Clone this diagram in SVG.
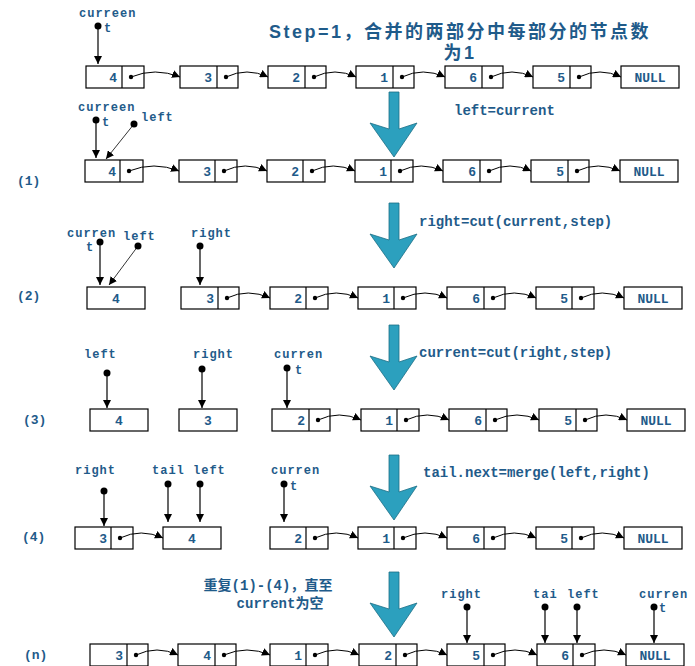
<svg xmlns="http://www.w3.org/2000/svg" width="695" height="666" viewBox="0 0 695 666">
<style>
rect{fill:#fff;stroke:#000;stroke-width:1.2}
.d{stroke:#000;stroke-width:1.2}
.t{font-family:"Liberation Mono","DejaVu Sans Mono",monospace;font-weight:bold;font-size:13px;fill:#1f5b8a}
.v{text-anchor:end}
.c{text-anchor:middle}
.p{font-family:"Liberation Mono","DejaVu Sans Mono",monospace;font-weight:bold;font-size:12px;fill:#1f5b8a;letter-spacing:1px}
.cap{font-family:"Liberation Mono","DejaVu Sans Mono","Noto Sans CJK SC",monospace;font-weight:bold;font-size:14px;fill:#1f5b8a}
.ti{font-family:"Liberation Sans","Noto Sans CJK SC",sans-serif;font-weight:bold;font-size:18px;fill:#1f5b8a;letter-spacing:2.5px}
.cn path{fill:none;stroke:#000;stroke-width:1;marker-end:url(#ah)}
.ptr line{stroke:#000;stroke-width:1.2;marker-end:url(#ah)}
.big{fill:#2ca0be;stroke:#1d6f85;stroke-width:0.8}
</style>
<defs>
<marker id="ah" viewBox="0 0 10 10" refX="10" refY="5" markerWidth="8" markerHeight="8" markerUnits="userSpaceOnUse" orient="auto"><path d="M0,0L10,5L0,10z" fill="#000"/></marker>
<polygon id="arr" points="389,0 399,0 399,37 417,31 394,65 370,31 389,37"/>
</defs>

<text class="ti" x="269" y="38">Step=1，合并的两部分中每部分的节点数</text>
<text class="ti" x="460" y="59" text-anchor="middle">为1</text>

<g id="bigarrows">
<use href="#arr" class="big" y="92"/>
<use href="#arr" class="big" y="203"/>
<use href="#arr" class="big" y="325"/>
<use href="#arr" class="big" y="455"/>
<use href="#arr" class="big" y="572"/>
</g>

<text class="cap" x="454" y="115">left=current</text>
<text class="cap" x="419" y="226">right=cut(current,step)</text>
<text class="cap" x="419" y="357">current=cut(right,step)</text>
<text class="cap" x="423" y="477">tail.next=merge(left,right)</text>
<text class="cap" x="268" y="590" text-anchor="middle">重复(1)-(4)，直至</text>
<text class="cap" x="280" y="608" text-anchor="middle">current为空</text>

<g class="t">
<text x="17" y="185">(1)</text><text x="17" y="300">(2)</text><text x="23" y="424">(3)</text><text x="22" y="541">(4)</text><text x="24" y="659">(n)</text>
</g>

<g id="r0">
<rect x="86" y="66" width="58" height="22"/><line class="d" x1="122" y1="66" x2="122" y2="88"/><text class="t v" x="117" y="82">4</text>
<rect x="180" y="66" width="58" height="22"/><line class="d" x1="217" y1="66" x2="217" y2="88"/><text class="t v" x="212" y="82">3</text>
<rect x="268" y="66" width="58" height="22"/><line class="d" x1="305" y1="66" x2="305" y2="88"/><text class="t v" x="300" y="82">2</text>
<rect x="356" y="66" width="58" height="22"/><line class="d" x1="393" y1="66" x2="393" y2="88"/><text class="t v" x="388" y="82">1</text>
<rect x="445" y="66" width="58" height="22"/><line class="d" x1="482" y1="66" x2="482" y2="88"/><text class="t v" x="477" y="82">6</text>
<rect x="533" y="66" width="58" height="22"/><line class="d" x1="570" y1="66" x2="570" y2="88"/><text class="t v" x="565" y="82">5</text>
<rect x="621" y="66" width="58" height="22"/><text class="t c" x="650" y="82">NULL</text>
</g>
<g id="r1">
<rect x="85" y="160" width="58" height="22"/><line class="d" x1="120" y1="160" x2="120" y2="182"/><text class="t v" x="116" y="176">4</text>
<rect x="179" y="160" width="58" height="22"/><line class="d" x1="215" y1="160" x2="215" y2="182"/><text class="t v" x="211" y="176">3</text>
<rect x="267" y="160" width="58" height="22"/><line class="d" x1="303" y1="160" x2="303" y2="182"/><text class="t v" x="299" y="176">2</text>
<rect x="355" y="160" width="58" height="22"/><line class="d" x1="391" y1="160" x2="391" y2="182"/><text class="t v" x="387" y="176">1</text>
<rect x="443" y="160" width="58" height="22"/><line class="d" x1="480" y1="160" x2="480" y2="182"/><text class="t v" x="476" y="176">6</text>
<rect x="531" y="160" width="58" height="22"/><line class="d" x1="568" y1="160" x2="568" y2="182"/><text class="t v" x="564" y="176">5</text>
<rect x="620" y="160" width="58" height="22"/><text class="t c" x="649" y="176">NULL</text>
</g>
<g id="r2">
<rect x="87" y="287" width="58" height="22"/><text class="t c" x="116" y="303">4</text>
<rect x="181" y="287" width="58" height="22"/><line class="d" x1="218" y1="287" x2="218" y2="309"/><text class="t v" x="214" y="303">3</text>
<rect x="270" y="287" width="58" height="22"/><line class="d" x1="306" y1="287" x2="306" y2="309"/><text class="t v" x="302" y="303">2</text>
<rect x="358" y="287" width="58" height="22"/><line class="d" x1="394" y1="287" x2="394" y2="309"/><text class="t v" x="390" y="303">1</text>
<rect x="447" y="287" width="58" height="22"/><line class="d" x1="484" y1="287" x2="484" y2="309"/><text class="t v" x="480" y="303">6</text>
<rect x="536" y="287" width="58" height="22"/><line class="d" x1="572" y1="287" x2="572" y2="309"/><text class="t v" x="568" y="303">5</text>
<rect x="624" y="287" width="58" height="22"/><text class="t c" x="653" y="303">NULL</text>
</g>
<g id="r3">
<rect x="90" y="409" width="58" height="22"/><text class="t c" x="119" y="425">4</text>
<rect x="179" y="409" width="58" height="22"/><text class="t c" x="208" y="425">3</text>
<rect x="272" y="409" width="58" height="22"/><line class="d" x1="309" y1="409" x2="309" y2="431"/><text class="t v" x="305" y="425">2</text>
<rect x="361" y="409" width="58" height="22"/><line class="d" x1="397" y1="409" x2="397" y2="431"/><text class="t v" x="393" y="425">1</text>
<rect x="449" y="409" width="58" height="22"/><line class="d" x1="486" y1="409" x2="486" y2="431"/><text class="t v" x="482" y="425">6</text>
<rect x="539" y="409" width="58" height="22"/><line class="d" x1="576" y1="409" x2="576" y2="431"/><text class="t v" x="572" y="425">5</text>
<rect x="627" y="409" width="58" height="22"/><text class="t c" x="656" y="425">NULL</text>
</g>
<g id="r4">
<rect x="75" y="527" width="58" height="22"/><line class="d" x1="111" y1="527" x2="111" y2="549"/><text class="t v" x="107" y="543">3</text>
<rect x="163" y="527" width="58" height="22"/><text class="t c" x="192" y="543">4</text>
<rect x="270" y="527" width="58" height="22"/><line class="d" x1="306" y1="527" x2="306" y2="549"/><text class="t v" x="302" y="543">2</text>
<rect x="358" y="527" width="58" height="22"/><line class="d" x1="394" y1="527" x2="394" y2="549"/><text class="t v" x="390" y="543">1</text>
<rect x="447" y="527" width="58" height="22"/><line class="d" x1="484" y1="527" x2="484" y2="549"/><text class="t v" x="480" y="543">6</text>
<rect x="536" y="527" width="58" height="22"/><line class="d" x1="572" y1="527" x2="572" y2="549"/><text class="t v" x="568" y="543">5</text>
<rect x="624" y="527" width="58" height="22"/><text class="t c" x="653" y="543">NULL</text>
</g>
<g id="rn">
<rect x="90" y="644" width="58" height="22"/><line class="d" x1="127" y1="644" x2="127" y2="666"/><text class="t v" x="123" y="660">3</text>
<rect x="178" y="644" width="58" height="22"/><line class="d" x1="215" y1="644" x2="215" y2="666"/><text class="t v" x="211" y="660">4</text>
<rect x="270" y="644" width="58" height="22"/><line class="d" x1="306" y1="644" x2="306" y2="666"/><text class="t v" x="302" y="660">1</text>
<rect x="359" y="644" width="58" height="22"/><line class="d" x1="396" y1="644" x2="396" y2="666"/><text class="t v" x="392" y="660">2</text>
<rect x="447" y="644" width="58" height="22"/><line class="d" x1="484" y1="644" x2="484" y2="666"/><text class="t v" x="480" y="660">5</text>
<rect x="537" y="644" width="58" height="22"/><line class="d" x1="573" y1="644" x2="573" y2="666"/><text class="t v" x="569" y="660">6</text>
<rect x="626" y="644" width="58" height="22"/><text class="t c" x="655" y="660">NULL</text>
</g>

<g id="connectors" class="cn">
<path d="M131,77Q155,67 180,77"/><path d="M226,77Q247,67 268,77"/><path d="M314,77Q335,67 356,77"/><path d="M402,77Q423,67 445,77"/><path d="M491,77Q512,67 533,77"/><path d="M579,77Q600,67 621,77"/>
<path d="M129,171Q154,161 179,171"/><path d="M224,171Q245,161 267,171"/><path d="M312,171Q333,161 355,171"/><path d="M400,171Q421,161 443,171"/><path d="M489,171Q510,161 531,171"/><path d="M577,171Q598,161 620,171"/>
<path d="M227,298Q248,288 270,298"/><path d="M315,298Q336,288 358,298"/><path d="M403,298Q425,288 447,298"/><path d="M493,298Q514,288 536,298"/><path d="M581,298Q602,288 624,298"/>
<path d="M318,420Q339,410 361,420"/><path d="M406,420Q427,410 449,420"/><path d="M495,420Q517,410 539,420"/><path d="M585,420Q606,410 627,420"/>
<path d="M120,538Q141,528 163,538"/><path d="M315,538Q336,528 358,538"/><path d="M403,538Q425,528 447,538"/><path d="M493,538Q514,528 536,538"/><path d="M581,538Q602,528 624,538"/>
<path d="M136,655Q157,645 178,655"/><path d="M224,655Q247,645 270,655"/><path d="M315,655Q337,645 359,655"/><path d="M405,655Q426,645 447,655"/><path d="M493,655Q515,645 537,655"/><path d="M582,655Q604,645 626,655"/>
<g fill="#000">
<circle cx="131" cy="77" r="2.2"/><circle cx="226" cy="77" r="2.2"/><circle cx="314" cy="77" r="2.2"/><circle cx="402" cy="77" r="2.2"/><circle cx="491" cy="77" r="2.2"/><circle cx="579" cy="77" r="2.2"/>
<circle cx="129" cy="171" r="2.2"/><circle cx="224" cy="171" r="2.2"/><circle cx="312" cy="171" r="2.2"/><circle cx="400" cy="171" r="2.2"/><circle cx="489" cy="171" r="2.2"/><circle cx="577" cy="171" r="2.2"/>
<circle cx="227" cy="298" r="2.2"/><circle cx="315" cy="298" r="2.2"/><circle cx="403" cy="298" r="2.2"/><circle cx="493" cy="298" r="2.2"/><circle cx="581" cy="298" r="2.2"/>
<circle cx="318" cy="420" r="2.2"/><circle cx="406" cy="420" r="2.2"/><circle cx="495" cy="420" r="2.2"/><circle cx="585" cy="420" r="2.2"/>
<circle cx="120" cy="538" r="2.2"/><circle cx="315" cy="538" r="2.2"/><circle cx="403" cy="538" r="2.2"/><circle cx="493" cy="538" r="2.2"/><circle cx="581" cy="538" r="2.2"/>
<circle cx="136" cy="655" r="2.2"/><circle cx="224" cy="655" r="2.2"/><circle cx="315" cy="655" r="2.2"/><circle cx="405" cy="655" r="2.2"/><circle cx="493" cy="655" r="2.2"/><circle cx="582" cy="655" r="2.2"/>
</g>
</g>

<g id="pointers" class="ptr">
<line x1="98" y1="26" x2="98" y2="64"/>
<line x1="96" y1="120" x2="96" y2="158"/><line x1="134" y1="124" x2="106" y2="159" style="stroke-width:0.8"/>
<line x1="100" y1="242" x2="100" y2="285"/><line x1="138" y1="246" x2="109" y2="285" style="stroke-width:0.8"/><line x1="200" y1="246" x2="200" y2="285"/>
<line x1="107" y1="373" x2="107" y2="408"/><line x1="202" y1="369" x2="202" y2="408"/><line x1="287" y1="368" x2="287" y2="408"/>
<line x1="104" y1="491" x2="104" y2="526"/><line x1="168" y1="484" x2="168" y2="522"/><line x1="200" y1="484" x2="200" y2="522"/><line x1="284" y1="484" x2="284" y2="522"/>
<line x1="467" y1="607" x2="467" y2="643"/><line x1="545" y1="607" x2="545" y2="643"/><line x1="577" y1="607" x2="577" y2="643"/><line x1="654" y1="607" x2="654" y2="643"/>
<g fill="#000">
<circle cx="98" cy="26" r="3.5"/><circle cx="96" cy="120" r="3.5"/><circle cx="134" cy="124" r="3.5"/>
<circle cx="100" cy="242" r="3.5"/><circle cx="138" cy="246" r="3.5"/><circle cx="200" cy="246" r="3.5"/>
<circle cx="107" cy="373" r="3.5"/><circle cx="202" cy="369" r="3.5"/><circle cx="287" cy="368" r="3.5"/>
<circle cx="104" cy="491" r="3.5"/><circle cx="168" cy="484" r="3.5"/><circle cx="200" cy="484" r="3.5"/><circle cx="284" cy="484" r="3.5"/>
<circle cx="467" cy="607" r="3.5"/><circle cx="545" cy="607" r="3.5"/><circle cx="577" cy="607" r="3.5"/><circle cx="654" cy="607" r="3.5"/>
</g>
<g class="p">
<text x="79" y="17">curreen</text><text x="104" y="32">t</text>
<text x="78" y="111">curreen</text><text x="102" y="126">t</text><text x="141" y="121">left</text>
<text x="67" y="237">curren</text><text x="86" y="251">t</text><text x="123" y="240">left</text><text x="191" y="237">right</text>
<text x="84" y="358">left</text><text x="193" y="358">right</text><text x="274" y="358">curren</text><text x="295" y="374">t</text>
<text x="75" y="474">right</text><text x="152" y="474">tail</text><text x="193" y="474">left</text><text x="271" y="474">curren</text><text x="290" y="490">t</text>
<text x="441" y="598">right</text><text x="533" y="598">tai</text><text x="567" y="598">left</text><text x="639" y="598">curren</text><text x="659" y="612">t</text>
</g>
</g>
</svg>
